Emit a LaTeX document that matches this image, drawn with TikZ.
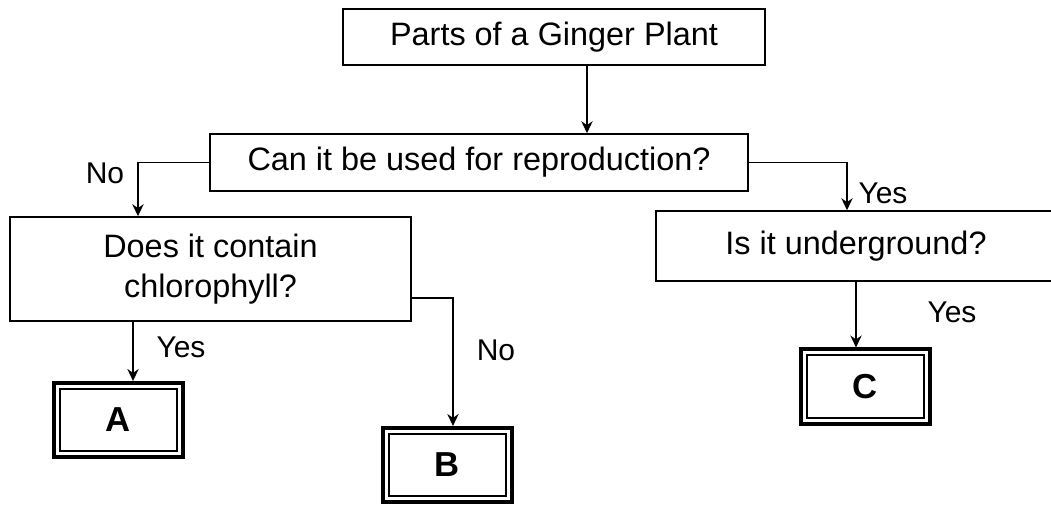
\documentclass[tikz,border=0pt]{standalone}
\usepackage{fontspec}
\setmainfont{Liberation Sans}
\usetikzlibrary{arrows.meta,calc}

\tikzset{every picture/.style={line width=0.75pt}}

\begin{document}
\begin{tikzpicture}[x=0.75pt,y=0.75pt,yscale=-1,xscale=1,
	qbox/.style={draw, line width=1.2pt, inner sep=0pt, align=center, font=\fontsize{24.3}{30}\selectfont},
	term/.style={draw, line width=3pt, inner sep=0pt, minimum width=96.75pt, minimum height=55.5pt, font=\bfseries\fontsize{26}{30}\selectfont,
		append after command={\pgfextra{\draw[line width=1.5pt] ($(\tikzlastnode.south west)+(8,-8)$) rectangle ($(\tikzlastnode.north east)+(-8,8)$);}}},
	lbl/.style={inner sep=0pt, font=\fontsize{22.5}{27}\selectfont},
	arr/.style={line width=1.1pt, -{Stealth[length=9pt,width=8.5pt]}}]
	\useasboundingbox (0,0) rectangle (1051,506);
	
	%Question boxes
	\node [qbox, minimum width=316.5pt, minimum height=42pt] (top) at (554,37) {Parts of a Ginger Plant};
	\node [qbox, minimum width=403.5pt, minimum height=42.75pt] (q1) at (479,162.5) {Can it be used for reproduction?};
	\node [qbox, minimum width=300.75pt, minimum height=78pt] (q2) at (210.5,269) {Does it contain\\chlorophyll?};
	\node [qbox, minimum width=300pt, minimum height=52.5pt] (q3) at (856,246) {Is it underground?};
	
	%Answer boxes
	\node [term] (A) at (118.5,420) {A};
	\node [term] (B) at (447.5,465) {B};
	\node [term] (C) at (865,386.5) {C};
	
	%Connectors
	\draw [arr] ([xshift=24.75pt]top.south) -- ([xshift=24.75pt]top.south |- q1.north);
	\draw [arr] (q1.west) -| ([xshift=-54.4pt]q2.north);
	\draw [arr] (q1.east) -| ([xshift=-6.75pt]q3.north);
	\draw [arr] ([xshift=10.9pt]A.north |- q2.south) -- ([xshift=10.9pt]A.north);
	\draw [arr] ($(q2.east)+(0,29)$) -| ([xshift=4.1pt]B.north);
	\draw [arr] (q3.south) -- (q3.south |- C.north);
	
	%Labels
	\node [lbl] (no1) at (105,173) {No};
	\node [lbl] (yes1) at (883,193) {Yes};
	\node [lbl] (yes2) at (181,347) {Yes};
	\node [lbl] (no2) at (496,350) {No};
	\node [lbl] (yes3) at (952,312) {Yes};
	
\end{tikzpicture}
\end{document}
